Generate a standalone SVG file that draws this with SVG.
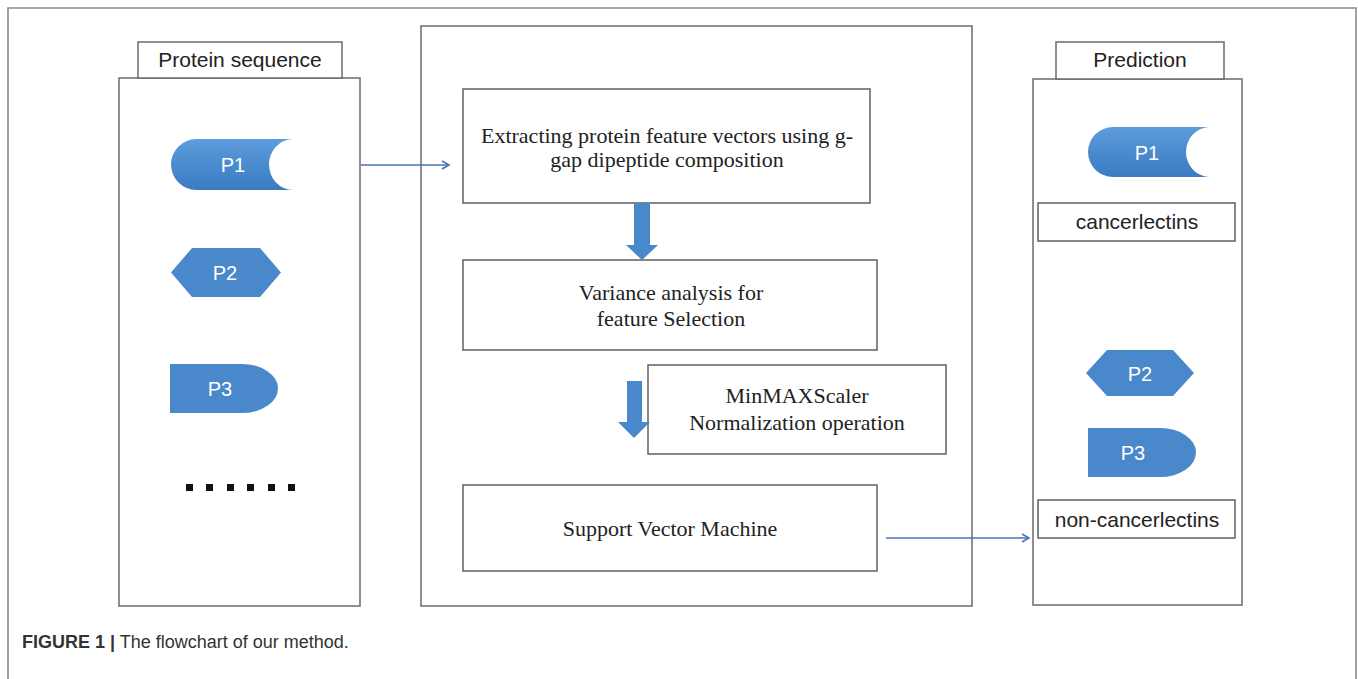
<svg xmlns="http://www.w3.org/2000/svg" width="1358" height="679" viewBox="0 0 1358 679">
<style>
.frame{fill:none;stroke:#8a8a8a;stroke-width:1.6}
.panel{fill:#fff;stroke:#6b6b6b;stroke-width:1.5}
.box{fill:#fff;stroke:#555;stroke-width:1.4}
.sans{font-family:"Liberation Sans",Arial,sans-serif;fill:#222;font-size:21px}
.serif{font-family:"Liberation Serif","Times New Roman",serif;fill:#222;font-size:22px}
.plabel{font-family:"Liberation Sans",Arial,sans-serif;fill:#fff;font-size:20px}
.shape{fill:#4a88cc}
.conn{stroke:#4a72b8;stroke-width:1.6;fill:none}
.block{fill:#4a88cc}
</style>
<defs>
<linearGradient id="pg" x1="0" y1="0" x2="0" y2="1">
<stop offset="0" stop-color="#5d9ddc"/>
<stop offset="0.5" stop-color="#4a8bd0"/>
<stop offset="1" stop-color="#3c7bc2"/>
</linearGradient>
<marker id="arr" markerWidth="12" markerHeight="12" refX="9" refY="6" orient="auto" markerUnits="userSpaceOnUse">
<path d="M2,2 L9,6 L2,10" fill="none" stroke="#4a72b8" stroke-width="1.6"/>
</marker>
</defs>
<rect width="1358" height="679" fill="#fff"/>
<path class="frame" d="M8,679 V8 H1356 V679"/>

<g id="input-panel">
<rect class="panel" x="119" y="78" width="241" height="528"/>
<rect class="panel" x="138" y="42" width="204" height="36"/>
<text class="sans" x="240" y="67" text-anchor="middle" font-size="21.5">Protein sequence</text>
</g>
<g id="in-p1">
<path fill="url(#pg)" d="M196.5,139 H293 A24,25.5 0 0 0 293,190 H196.5 A25.5,25.5 0 0 1 196.5,139 Z"/>
<text class="plabel" x="233" y="172" text-anchor="middle">P1</text>
</g>
<g id="in-p2">
<polygon class="shape" points="171,272.5 192,248 260,248 281,272.5 260,297 192,297"/>
<text class="plabel" x="225" y="280" text-anchor="middle">P2</text>
</g>
<g id="in-p3">
<path class="shape" d="M170,364 H242 A36,24.5 0 0 1 242,413 H170 Z"/>
<text class="plabel" x="220" y="396" text-anchor="middle">P3</text>
</g>
<g id="in-dots" fill="#111">
<rect x="186" y="484" width="7" height="7"/>
<rect x="206" y="484" width="7" height="7"/>
<rect x="227" y="484" width="7" height="7"/>
<rect x="247" y="484" width="7" height="7"/>
<rect x="268" y="484" width="7" height="7"/>
<rect x="288" y="484" width="7" height="7"/>
</g>

<g id="process-panel">
<rect class="panel" x="421" y="26" width="551" height="580"/>
</g>
<g id="step-extract">
<rect class="box" x="463" y="89" width="407" height="114"/>
<text class="serif" x="667" y="143" text-anchor="middle">Extracting protein feature vectors using g-</text>
<text class="serif" x="667" y="167" text-anchor="middle">gap dipeptide composition</text>
</g>
<g id="step-variance">
<rect class="box" x="463" y="260" width="414" height="90"/>
<text class="serif" x="671" y="300" text-anchor="middle">Variance analysis for</text>
<text class="serif" x="671" y="326" text-anchor="middle">feature Selection</text>
</g>
<g id="step-minmax">
<rect class="box" x="648" y="365" width="298" height="89"/>
<text class="serif" x="797" y="403" text-anchor="middle">MinMAXScaler</text>
<text class="serif" x="797" y="430" text-anchor="middle">Normalization operation</text>
</g>
<g id="step-svm">
<rect class="box" x="463" y="485" width="414" height="86"/>
<text class="serif" x="670" y="536" text-anchor="middle">Support Vector Machine</text>
</g>

<g id="output-panel">
<rect class="panel" x="1033" y="79" width="209" height="526"/>
<rect class="panel" x="1056" y="42" width="168" height="37"/>
<text class="sans" x="1140" y="67" text-anchor="middle">Prediction</text>
</g>
<g id="out-p1">
<path fill="url(#pg)" d="M1113,127 H1210 A24,25 0 0 0 1210,177 H1113 A25,25 0 0 1 1113,127 Z"/>
<text class="plabel" x="1147" y="160" text-anchor="middle">P1</text>
</g>
<g id="out-cancer">
<rect class="box" x="1038" y="203" width="197" height="38"/>
<text class="sans" x="1137" y="229" text-anchor="middle">cancerlectins</text>
</g>
<g id="out-p2">
<polygon class="shape" points="1086,373 1107,350 1173,350 1194,373 1173,396 1107,396"/>
<text class="plabel" x="1140" y="381" text-anchor="middle">P2</text>
</g>
<g id="out-p3">
<path class="shape" d="M1088,428 H1160 A36,24.5 0 0 1 1160,477 H1088 Z"/>
<text class="plabel" x="1133" y="460" text-anchor="middle">P3</text>
</g>
<g id="out-noncancer">
<rect class="box" x="1038" y="500" width="197" height="38"/>
<text class="sans" x="1137" y="527" text-anchor="middle">non-cancerlectins</text>
</g>

<g id="connectors">
<line class="conn" x1="361" y1="165" x2="449" y2="165" marker-end="url(#arr)"/>
<line class="conn" x1="886" y1="538" x2="1029" y2="538" marker-end="url(#arr)"/>
<path class="block" d="M634,203 H650 V245 H658 L642,260 L626,245 H634 Z"/>
<path class="block" d="M627,381 H642 V422 H650 L634,438 L618,422 H627 Z"/>
</g>

<text x="22" y="648" font-family="'Liberation Sans',Arial,sans-serif" font-size="18" fill="#333"><tspan font-weight="bold">FIGURE 1 |</tspan> The flowchart of our method.</text>
</svg>
